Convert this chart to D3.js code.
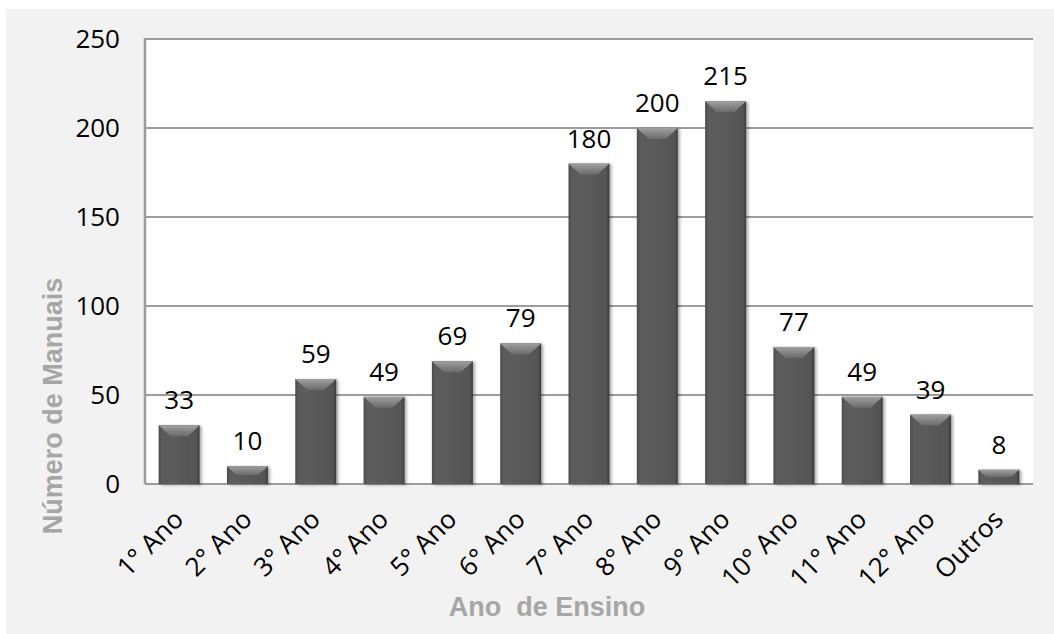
<!DOCTYPE html>
<meta charset="utf-8">
<style>
body { margin: 0; background: #fff; }
.tick-label, .val-label, .cat-label {
  font-family: "Open Sans", sans-serif;
  font-size: 26px;
  fill: #000;
}
.axis-title {
  font-family: "Liberation Sans", Arial, sans-serif;
  font-weight: bold;
  font-size: 27px;
  fill: #a6a6a6;
}
</style>
<svg width="1054" height="634"></svg>
<script src="https://cdn.jsdelivr.net/npm/d3@7/dist/d3.min.js"></script>
<script>

var categories = ["1° Ano", "2° Ano", "3° Ano", "4° Ano", "5° Ano", "6° Ano", "7° Ano",
                  "8° Ano", "9° Ano", "10° Ano", "11° Ano", "12° Ano", "Outros"];
var values = [33, 10, 59, 49, 69, 79, 180, 200, 215, 77, 49, 39, 8];
var yTicks = [0, 50, 100, 150, 200, 250];

var svg = d3.select("svg"),
    width = +svg.attr("width"),
    height = +svg.attr("height");

var plot = {left: 145, right: 1033, top: 39, bottom: 484};

// gray panel behind everything
svg.append("rect")
    .attr("x", 6).attr("y", 9)
    .attr("width", width - 6).attr("height", height - 9)
    .attr("fill", "#f2f2f2");

svg.append("rect")
    .attr("x", plot.left).attr("y", plot.top)
    .attr("width", plot.right - plot.left).attr("height", plot.bottom - plot.top)
    .attr("fill", "#fff");

var x = d3.scaleBand()
    .domain(categories)
    .range([plot.left, plot.right])
    .paddingInner(0.4)
    .paddingOuter(0.2);

var y = d3.scaleLinear()
    .domain([0, 250])
    .range([plot.bottom, plot.top]);

var defs = svg.append("defs");

var body = defs.append("linearGradient").attr("id", "barBody")
    .attr("x1", 0).attr("x2", 1).attr("y1", 0).attr("y2", 0);
body.append("stop").attr("offset", "0%").attr("stop-color", "#4a4a4a");
body.append("stop").attr("offset", "8%").attr("stop-color", "#5c5c5c");
body.append("stop").attr("offset", "50%").attr("stop-color", "#5a5a5a");
body.append("stop").attr("offset", "92%").attr("stop-color", "#545454");
body.append("stop").attr("offset", "100%").attr("stop-color", "#3c3c3c");

var bevel = defs.append("linearGradient").attr("id", "barBevel")
    .attr("x1", 0).attr("x2", 0).attr("y1", 0).attr("y2", 1);
bevel.append("stop").attr("offset", "0%").attr("stop-color", "#a0a0a0");
bevel.append("stop").attr("offset", "100%").attr("stop-color", "#6a6a6a");

var shadow = defs.append("filter").attr("id", "shadow")
    .attr("x", "-20%").attr("y", "-20%").attr("width", "150%").attr("height", "150%");
shadow.append("feDropShadow")
    .attr("dx", 2).attr("dy", 1).attr("stdDeviation", 1.5)
    .attr("flood-color", "#000").attr("flood-opacity", 0.35);

// gridlines
svg.append("g")
  .selectAll("line")
  .data(yTicks.filter(function(d) { return d > 0; }))
  .enter().append("line")
    .attr("x1", plot.left).attr("x2", plot.right)
    .attr("y1", function(d) { return y(d); })
    .attr("y2", function(d) { return y(d); })
    .attr("stroke", "#9c9c9c")
    .attr("stroke-width", 2);

// axis lines
svg.append("line")
    .attr("x1", plot.left).attr("x2", plot.left)
    .attr("y1", plot.top - 1).attr("y2", plot.bottom)
    .attr("stroke", "#9c9c9c").attr("stroke-width", 2.5);
svg.append("line")
    .attr("x1", plot.left).attr("x2", plot.right)
    .attr("y1", plot.bottom).attr("y2", plot.bottom)
    .attr("stroke", "#9c9c9c").attr("stroke-width", 2);

// y tick labels
svg.append("g")
  .selectAll("text")
  .data(yTicks)
  .enter().append("text")
    .attr("class", "tick-label")
    .attr("x", 120)
    .attr("y", function(d) { return y(d); })
    .attr("dy", "0.36em")
    .attr("text-anchor", "end")
    .text(function(d) { return d; });

// bars
var bar = svg.append("g")
  .selectAll("g")
  .data(categories)
  .enter().append("g")
    .attr("filter", "url(#shadow)");

var bw = x.bandwidth();

bar.append("rect")
    .attr("x", function(d) { return x(d); })
    .attr("y", function(d, i) { return y(values[i]); })
    .attr("width", bw)
    .attr("height", function(d, i) { return plot.bottom - y(values[i]); })
    .attr("fill", "url(#barBody)");

bar.append("path")
    .attr("fill", "url(#barBevel)")
    .attr("d", function(d, i) {
      var x0 = x(d), x1 = x(d) + bw, y0 = y(values[i]);
      var h = Math.min(11, (plot.bottom - y0) / 2), inset = Math.min(12, h * 1.1);
      return "M" + x0 + "," + y0 + "L" + x1 + "," + y0 +
             "L" + (x1 - inset) + "," + (y0 + h) + "L" + (x0 + inset) + "," + (y0 + h) + "Z";
    });

// value labels
svg.append("g")
  .selectAll("text")
  .data(categories)
  .enter().append("text")
    .attr("class", "val-label")
    .attr("x", function(d) { return x(d) + bw / 2; })
    .attr("y", function(d, i) { return y(values[i]) - 16; })
    .attr("text-anchor", "middle")
    .text(function(d, i) { return values[i]; });

// category labels
svg.append("g")
  .selectAll("text")
  .data(categories)
  .enter().append("text")
    .attr("class", "cat-label")
    .attr("text-anchor", "end")
    .attr("transform", function(d) {
      return "translate(" + (x(d) + bw / 2 + 6) + "," + 521 + ") rotate(-45)";
    })
    .text(function(d) { return d; });

// axis titles
svg.append("text")
    .attr("class", "axis-title")
    .attr("text-anchor", "middle")
    .attr("transform", "translate(62,406) rotate(-90)")
    .text("Número de Manuais");

svg.append("text")
    .attr("class", "axis-title")
    .attr("text-anchor", "middle")
    .attr("x", 547).attr("y", 616)
    .style("white-space", "pre")
    .text("Ano  de Ensino");

</script>
